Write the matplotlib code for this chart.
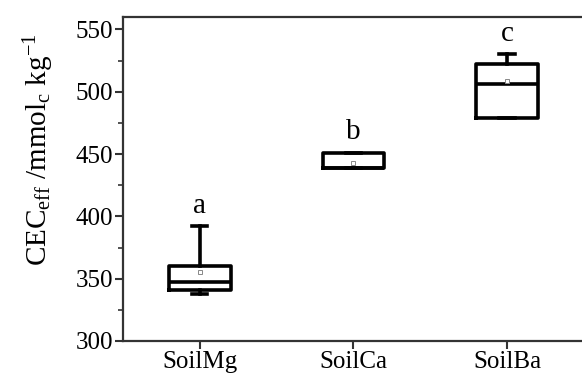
import matplotlib
matplotlib.use("Agg")
import matplotlib.pyplot as plt
from matplotlib.ticker import MultipleLocator

# box statistics per soil (mmol_c/kg)
soils = ["SoilMg", "SoilCa", "SoilBa"]
whislo = [338, 439, 479]
q1 = [341, 439, 479]
med = [347, 439, 506]
q3 = [360, 451, 522]
whishi = [392, 451, 530]
means = [355, 443, 509]
letters = ["a", "b", "c"]

plt.rcParams['font.family'] = ['Liberation Serif', 'DejaVu Serif']
plt.rcParams['mathtext.fontset'] = 'custom'
plt.rcParams['mathtext.rm'] = 'Liberation Serif'
plt.rcParams['mathtext.it'] = 'Liberation Serif'

stats = []
for i in range(len(soils)):
	stats.append(dict(label=soils[i], whislo=whislo[i], q1=q1[i], med=med[i],
					  q3=q3[i], whishi=whishi[i], mean=means[i], fliers=[]))

fig = plt.figure(figsize=(5.82, 3.76), dpi=100)
ax = fig.add_axes([0.2113, 0.0931, 0.7921, 0.8617])

lw = 2.6
ax.bxp(stats, positions=[1, 2, 3], widths=0.4, showmeans=True, showfliers=False,
	   capwidths=0.1,
	   boxprops=dict(color='black', linewidth=lw),
	   medianprops=dict(color='black', linewidth=lw),
	   whiskerprops=dict(color='black', linewidth=lw),
	   capprops=dict(color='black', linewidth=lw),
	   meanprops=dict(marker='s', markersize=3.5, markerfacecolor='white',
					  markeredgecolor='#888888', markeredgewidth=0.7))

for i in range(len(soils)):
	ax.text(i + 1, whishi[i] + 6, letters[i], ha='center', va='bottom', fontsize=21)

ax.set_xlim(0.5, 3.5)
ax.set_ylim(300, 560)
ax.set_xticks([1, 2, 3])
ax.set_xticklabels(soils)
ax.yaxis.set_major_locator(MultipleLocator(50))
ax.yaxis.set_minor_locator(MultipleLocator(25))
ax.tick_params(axis='both', which='major', labelsize=18, direction='out',
			   length=6, width=1.5, color='#333333', pad=1)
ax.tick_params(axis='y', which='minor', direction='out', length=3.5, width=1.2,
			   color='#333333')
ax.tick_params(top=False, right=False)
for sp in ax.spines.values():
	sp.set_linewidth(1.6)
	sp.set_color('#333333')

ax.set_ylabel(r'CEC$_{\mathrm{eff}}$ /mmol$_{\mathrm{c}}$ kg$^{-1}$', fontsize=21)
ax.yaxis.set_label_coords(-0.145, 0.59)

fig.savefig("out.png", dpi=100)
